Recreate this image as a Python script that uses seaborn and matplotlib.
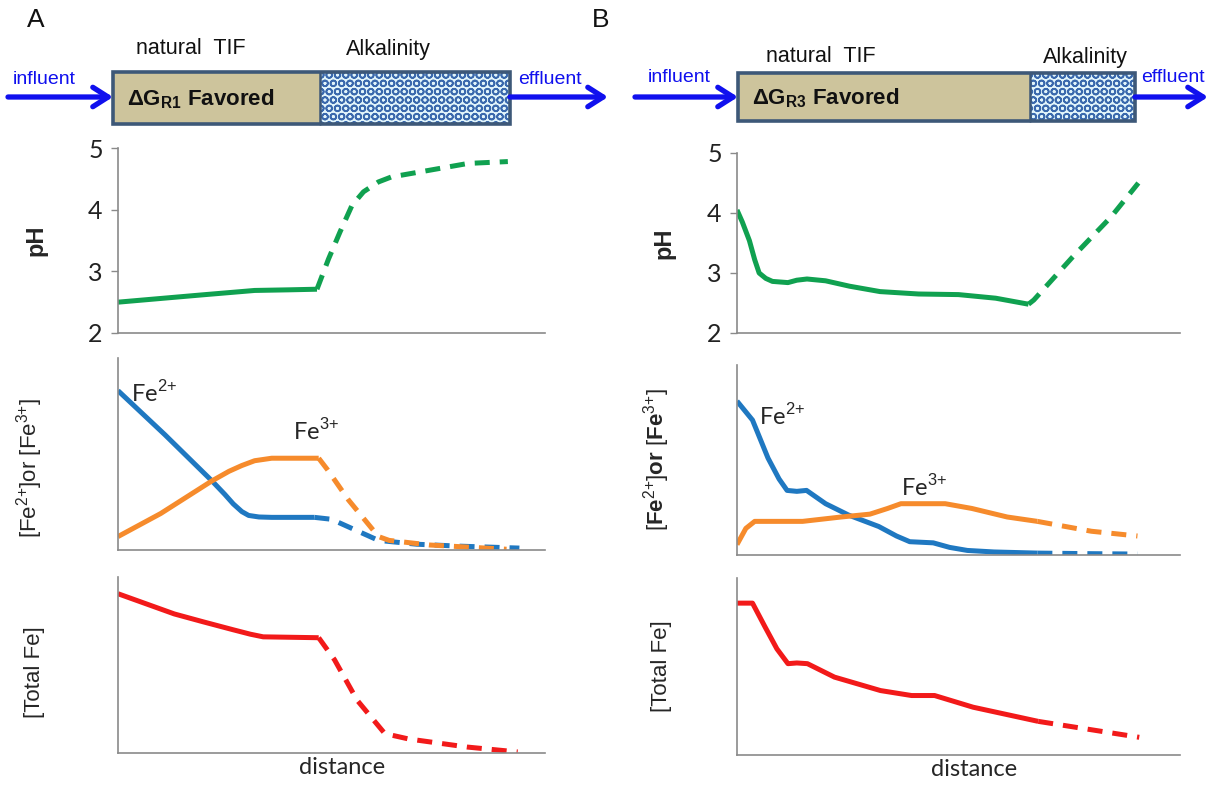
import matplotlib
matplotlib.use("Agg")
import matplotlib.pyplot as plt
from matplotlib import font_manager
from matplotlib.patches import Rectangle
import seaborn as sns

# ---------------- data (distance as fraction of the column length) ----------------
# Panel A: natural TIF (R1) followed by an alkalinity zone
a_ph_x_solid = [0.0, 0.10, 0.20, 0.32, 0.40, 0.466]
a_ph_solid = [2.50, 2.56, 2.62, 2.69, 2.70, 2.71]
a_ph_x_dash = [0.466, 0.493, 0.52, 0.548, 0.575, 0.61, 0.64, 0.73, 0.82, 0.913]
a_ph_dash = [2.71, 3.20, 3.64, 4.07, 4.29, 4.45, 4.53, 4.64, 4.75, 4.78]

a_fe2_x_solid = [0.0, 0.11, 0.22, 0.25, 0.27, 0.29, 0.306, 0.33, 0.36, 0.46]
a_fe2_solid = [0.83, 0.60, 0.36, 0.29, 0.24, 0.20, 0.18, 0.172, 0.17, 0.17]
a_fe2_x_dash = [0.46, 0.50, 0.61, 0.70, 0.80, 0.94]
a_fe2_dash = [0.17, 0.16, 0.05, 0.03, 0.02, 0.01]

a_fe3_x_solid = [0.0, 0.10, 0.22, 0.26, 0.29, 0.32, 0.36, 0.47]
a_fe3_solid = [0.07, 0.19, 0.36, 0.41, 0.44, 0.465, 0.478, 0.478]
a_fe3_x_dash = [0.47, 0.49, 0.54, 0.61, 0.635, 0.73, 0.91]
a_fe3_dash = [0.478, 0.42, 0.26, 0.07, 0.05, 0.026, 0.004]

a_tot_x_solid = [0.0, 0.132, 0.20, 0.27, 0.31, 0.34, 0.47]
a_tot_solid = [0.905, 0.79, 0.745, 0.70, 0.675, 0.66, 0.655]
a_tot_x_dash = [0.47, 0.507, 0.56, 0.625, 0.68, 0.817, 0.936]
a_tot_dash = [0.655, 0.53, 0.30, 0.11, 0.08, 0.034, 0.006]

# Panel B: natural TIF (R3) followed by a short alkalinity zone
b_ph_x_solid = [0.0, 0.012, 0.028, 0.04, 0.05, 0.065, 0.08, 0.115, 0.135, 0.158, 0.20,
                0.254, 0.323, 0.41, 0.50, 0.584, 0.658]
b_ph_solid = [4.05, 3.85, 3.54, 3.22, 3.00, 2.91, 2.86, 2.84, 2.88, 2.90, 2.87,
              2.78, 2.69, 2.65, 2.64, 2.58, 2.48]
b_ph_x_dash = [0.658, 0.67, 0.758, 0.845, 0.906]
b_ph_dash = [2.48, 2.55, 3.27, 3.94, 4.50]

b_fe2_x_solid = [0.0, 0.035, 0.07, 0.095, 0.113, 0.135, 0.157, 0.20, 0.252, 0.32, 0.36,
                 0.39, 0.443, 0.48, 0.52, 0.58, 0.678]
b_fe2_solid = [0.81, 0.71, 0.51, 0.40, 0.34, 0.335, 0.34, 0.27, 0.21, 0.15, 0.10,
               0.07, 0.064, 0.04, 0.024, 0.016, 0.01]
b_fe2_x_dash = [0.678, 0.80, 0.904]
b_fe2_dash = [0.01, 0.007, 0.005]

b_fe3_x_solid = [0.0, 0.02, 0.04, 0.08, 0.148, 0.235, 0.30, 0.34, 0.37, 0.47, 0.53, 0.61, 0.678]
b_fe3_solid = [0.055, 0.14, 0.177, 0.177, 0.177, 0.20, 0.215, 0.245, 0.27, 0.27, 0.245, 0.20, 0.177]
b_fe3_x_dash = [0.678, 0.80, 0.904]
b_fe3_dash = [0.177, 0.125, 0.10]

b_tot_x_solid = [0.0, 0.035, 0.063, 0.09, 0.115, 0.135, 0.159, 0.22, 0.324, 0.394, 0.446,
                 0.533, 0.68]
b_tot_solid = [0.858, 0.858, 0.725, 0.60, 0.516, 0.52, 0.516, 0.44, 0.364, 0.336, 0.336,
               0.27, 0.19]
b_tot_x_dash = [0.68, 0.908]
b_tot_dash = [0.19, 0.10]

ph_ticks = [2, 3, 4, 5]

# ---------------- style ----------------
sns.set_style("white")
plt.rcParams["font.family"] = ["Liberation Sans", "DejaVu Sans"]
plt.rcParams["mathtext.fontset"] = "custom"
plt.rcParams["mathtext.rm"] = "Liberation Sans"
plt.rcParams["mathtext.bf"] = "Liberation Sans:bold"
plt.rcParams["hatch.linewidth"] = 1.2

installed = {f.name for f in font_manager.fontManager.ttflist}
NARROW = "Liberation Sans Narrow" if "Liberation Sans Narrow" in installed else "Liberation Sans"
CAL = "Lato" if "Lato" in installed else "DejaVu Sans"

GREEN = "#10a150"
BLUE = "#1f78c1"
ORANGE = "#f68b2c"
RED = "#f21a1a"
ARROW = "#1010ee"
SPINE = "#8a8a8a"
TAN = "#cdc49c"
FRAME = "#3d5878"
LW = 3.6
DASH = (0, (3, 2))

W, H = 1211, 785
fig = plt.figure(figsize=(W / 100, H / 100), dpi=100)


def px_axes(left, top, right, bottom):
    return fig.add_axes([left / W, 1 - bottom / H, (right - left) / W, (bottom - top) / H])


def curve(ax, xs, ys, color, dashed=False):
    sns.lineplot(x=xs, y=ys, ax=ax, color=color, lw=LW, estimator=None, sort=False,
                 linestyle=DASH if dashed else "-", solid_joinstyle="round",
                 solid_capstyle="butt", dash_capstyle="butt")


def style_axes(ax, ylim, ticks=None):
    ax.set_xlim(0, 1)
    ax.set_ylim(*ylim)
    for s in ("top", "right"):
        ax.spines[s].set_visible(False)
    for s in ("left", "bottom"):
        ax.spines[s].set_color(SPINE)
        ax.spines[s].set_linewidth(1.2)
    ax.set_xticks([])
    if ticks is None:
        ax.set_yticks([])
    else:
        ax.set_yticks(ticks)
        ax.tick_params(axis="y", left=True, length=5, width=1, color=SPINE,
                       labelsize=18, pad=6, labelcolor="#222222")
        for lbl in ax.get_yticklabels():
            lbl.set_fontfamily(CAL)
    ax.set_xlabel("")
    ax.set_ylabel("")


# ---------------- header: flow-through column schematic ----------------
hdr = fig.add_axes([0, 0, 1, 1])
hdr.set_xlim(0, W)
hdr.set_ylim(H, 0)
hdr.axis("off")


def column(left, split, right, top, bottom, sub, tif_x, alk_x, label_y,
           in_x, in_text_x, out_x, out_text_x, arrow_y, text_y):
    hdr.add_patch(Rectangle((left, top), split - left, bottom - top, facecolor=TAN,
                            edgecolor="none", zorder=1))
    hdr.add_patch(Rectangle((split, top), right - split, bottom - top, facecolor="#e2f5fb",
                            edgecolor="#3a69ad", hatch="OO", lw=0, zorder=1))
    hdr.add_patch(Rectangle((left, top), right - left, bottom - top, facecolor="none",
                            edgecolor=FRAME, lw=2.6, zorder=3))
    hdr.plot([split, split], [top, bottom], color=FRAME, lw=1.8, zorder=3)
    hdr.text(left + 14, (top + bottom) / 2 + 1,
             r"$\mathbf{\Delta G_{" + sub + r"}}$ Favored",
             fontsize=16, fontweight="bold", color="#111111", ha="left", va="center", zorder=4)
    hdr.text(tif_x, label_y, "natural  TIF", fontsize=15.5, ha="center", va="center",
             color="#111111")
    hdr.text(alk_x, label_y, "Alkalinity", fontsize=15.5, ha="center", va="center",
             color="#111111")
    arrow = dict(arrowstyle="->,head_length=0.55,head_width=0.35", color=ARROW, lw=3.8,
                 shrinkA=0, shrinkB=0, mutation_scale=20)
    hdr.annotate("", xy=(left, arrow_y), xytext=(in_x, arrow_y), arrowprops=arrow)
    hdr.annotate("", xy=(out_x, arrow_y), xytext=(right, arrow_y), arrowprops=arrow)
    hdr.text(in_text_x, text_y, "influent", fontsize=14, family=NARROW, color=ARROW,
             ha="center", va="center")
    hdr.text(out_text_x, text_y, "effluent", fontsize=14, family=NARROW, color=ARROW,
             ha="center", va="center")


column(113, 320, 510, 72, 124, "R1", 191, 388, 49, 8, 44, 608, 550, 97, 80)
column(738, 1030, 1135, 73, 121, "R3", 821, 1085, 57, 635, 679, 1208, 1173, 97, 77)

hdr.text(36, 20, "A", fontsize=19, ha="center", va="center", color="#111111")
hdr.text(601, 20, "B", fontsize=19, ha="center", va="center", color="#111111")

FE2 = r"Fe$^{2{+}}$"
FE3 = r"Fe$^{3{+}}$"

# ---------------- panel A ----------------
ax = px_axes(118, 148, 545, 333)
curve(ax, a_ph_x_solid, a_ph_solid, GREEN)
curve(ax, a_ph_x_dash, a_ph_dash, GREEN, True)
style_axes(ax, (2, 5), ph_ticks)
ax.set_ylabel("pH", fontsize=17, fontweight="bold")
ax.yaxis.set_label_coords(-0.166, 0.5)

ax = px_axes(118, 358, 545, 550)
curve(ax, a_fe2_x_solid, a_fe2_solid, BLUE)
curve(ax, a_fe2_x_dash, a_fe2_dash, BLUE, True)
curve(ax, a_fe3_x_solid, a_fe3_solid, ORANGE)
curve(ax, a_fe3_x_dash, a_fe3_dash, ORANGE, True)
style_axes(ax, (0, 1))
ax.text(0.03, 0.82, FE2, fontsize=17, family=CAL, ha="left", va="center")
ax.text(0.41, 0.62, FE3, fontsize=17, family=CAL, ha="left", va="center")
ax.set_ylabel(r"[Fe$^{2{+}}$]or [Fe$^{3{+}}$]", fontsize=16)
ax.yaxis.set_label_coords(-0.171, 0.43)

ax = px_axes(118, 577, 545, 753)
curve(ax, a_tot_x_solid, a_tot_solid, RED)
curve(ax, a_tot_x_dash, a_tot_dash, RED, True)
style_axes(ax, (0, 1))
ax.set_ylabel("[Total Fe]", fontsize=16)
ax.yaxis.set_label_coords(-0.171, 0.46)
ax.set_xlabel("distance", fontsize=17, family=CAL)
ax.xaxis.set_label_coords(0.525, -0.02)

# ---------------- panel B ----------------
ax = px_axes(737, 153, 1180, 333)
curve(ax, b_ph_x_solid, b_ph_solid, GREEN)
curve(ax, b_ph_x_dash, b_ph_dash, GREEN, True)
style_axes(ax, (2, 5), ph_ticks)
ax.set_ylabel("pH", fontsize=17, fontweight="bold")
ax.yaxis.set_label_coords(-0.138, 0.5)

ax = px_axes(737, 365, 1180, 555)
curve(ax, b_fe2_x_solid, b_fe2_solid, BLUE)
curve(ax, b_fe2_x_dash, b_fe2_dash, BLUE, True)
curve(ax, b_fe3_x_solid, b_fe3_solid, ORANGE)
curve(ax, b_fe3_x_dash, b_fe3_dash, ORANGE, True)
style_axes(ax, (0, 1))
ax.text(0.05, 0.73, FE2, fontsize=17, family=CAL, ha="left", va="center")
ax.text(0.37, 0.36, FE3, fontsize=17, family=CAL, ha="left", va="center")
ax.set_ylabel(r"[$\mathbf{Fe}^{2{+}}$]$\mathbf{or}$ [$\mathbf{Fe}^{3{+}}$]", fontsize=16)
ax.yaxis.set_label_coords(-0.147, 0.5)

ax = px_axes(737, 578, 1180, 755)
curve(ax, b_tot_x_solid, b_tot_solid, RED)
curve(ax, b_tot_x_dash, b_tot_dash, RED, True)
style_axes(ax, (0, 1))
ax.set_ylabel("[Total Fe]", fontsize=16)
ax.yaxis.set_label_coords(-0.147, 0.5)
ax.set_xlabel("distance", fontsize=17, family=CAL)
ax.xaxis.set_label_coords(0.535, -0.02)

fig.savefig("out.png", dpi=100, facecolor="white")
